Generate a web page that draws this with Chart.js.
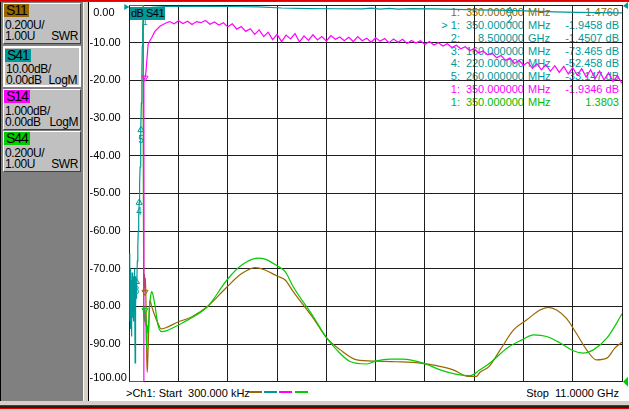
<!DOCTYPE html>
<html>
<head>
<meta charset="utf-8">
<script src="https://cdn.jsdelivr.net/npm/chart.js@4.4.0/dist/chart.umd.min.js"></script>
<style>
  html, body { margin: 0; padding: 0; }
  body { width: 629px; height: 411px; overflow: hidden; position: relative; background: #d4d0c8;
         font-family: "Liberation Sans", Arial, sans-serif; color: #000; }
  .abs { position: absolute; }
  #panel { left: 0; top: 2px; width: 83px; height: 399px; background: #808080; border-left: 1px solid #000; box-sizing: border-box; }
  #sep { left: 83px; top: 2px; width: 5px; height: 399px; background: #d4d0c8; border-left: 1px solid #f4f4f4; box-sizing: border-box; }
  #plotFrame { left: 88px; top: 2px; width: 541px; height: 399px; background: #fff; border-left: 1px solid #000; box-sizing: border-box; }
  .btn { position: absolute; left: 3px; width: 78px; height: 41px; background: #c0c0c0; box-sizing: border-box;
         border: 1px solid; border-color: #fff #404040 #404040 #fff; font-size: 12px; letter-spacing: -0.4px; }
  .btn.active { border: 2px solid #fff; }
  .chip { position: absolute; left: 0; top: 0; height: 13px; line-height: 13px; padding: 0 2px; font-size: 14px; letter-spacing: -1px; }
  .l2 { position: absolute; left: 1px; top: 15px; line-height: 12px; }
  .l3 { position: absolute; left: 1px; top: 26px; line-height: 12px; }
  .r3 { position: absolute; right: 2px; top: 26px; line-height: 12px; }
  .ro { position: absolute; font-size: 11px; line-height: 12px; white-space: nowrap; z-index: 1; }
  #chartBox { left: 89px; top: 0; width: 540px; height: 401px; z-index: 2; }
  #traceTag { left: 130px; top: 7px; width: 35px; height: 13px; line-height: 13px; background: #009999;
              font-size: 11px; letter-spacing: -0.5px; padding-left: 1px; box-sizing: border-box; z-index: 3; }
  .status { position: absolute; font-size: 11px; line-height: 12px; top: 387px; white-space: pre; z-index: 1; }
  .sw { position: absolute; top: 391px; width: 13px; height: 2px; z-index: 1; }
</style>
</head>
<body>
<div class="abs" style="left:0;top:0;width:629px;height:1px;background:#e00000"></div>
<div class="abs" style="left:0;top:1px;width:629px;height:1px;background:#505050"></div>
<div id="panel" class="abs"></div>
<div id="sep" class="abs"></div>
<div id="plotFrame" class="abs"></div>
<div class="abs" style="left:0;top:405px;width:629px;height:1px;background:#e00000"></div>
<div class="abs" style="left:0;top:406px;width:629px;height:2px;background:#202020"></div>
<div class="abs" style="left:0;top:408px;width:629px;height:1px;background:#e00000"></div>

<div class="btn" style="top:3px"><span class="chip" style="background:#996600">S11</span>
  <span class="l2">0.200U/</span><span class="l3">1.00U</span><span class="r3">SWR</span></div>
<div class="btn active" style="top:46px"><span class="chip" style="background:#009999;top:1px">S41</span>
  <span class="l2">10.00dB/</span><span class="l3">0.00dB</span><span class="r3">LogM</span></div>
<div class="btn" style="top:89px"><span class="chip" style="background:#ff00ff">S14</span>
  <span class="l2">1.000dB/</span><span class="l3">0.00dB</span><span class="r3">LogM</span></div>
<div class="btn" style="top:131px"><span class="chip" style="background:#00cc00">S44</span>
  <span class="l2">0.200U/</span><span class="l3">1.00U</span><span class="r3">SWR</span></div>

<div id="readout"></div>

<div id="chartBox" class="abs"><canvas id="vnaChart" width="540" height="401"></canvas></div>
<div id="traceTag" class="abs">dB S41</div>

<div class="status" style="left:126px">&gt;Ch1: Start  300.000 kHz</div>
<div class="sw" style="left:249px;background:#996600"></div>
<div class="sw" style="left:264px;background:#009999"></div>
<div class="sw" style="left:279px;background:#ff00ff"></div>
<div class="sw" style="left:295px;background:#00cc00"></div>
<div class="status" style="right:10px">Stop  11.0000 GHz</div>

<script>
// grid / axis
const xGridGHz = [0, 1.1, 2.2, 3.3, 4.4, 5.5, 6.6, 7.7, 8.8, 9.9, 11];
const yTickValues = [0, -10, -20, -30, -40, -50, -60, -70, -80, -90, -100];
const yTickLabels = ['0.00', '-10.00', '-20.00', '-30.00', '-40.00', '-50.00', '-60.00', '-70.00', '-80.00', '-90.00', '-100.00'];

// S41 (10 dB/div, ref 0 dB top)
const s41Freq = [0.0003, 0.005, 0.01, 0.015, 0.02, 0.025, 0.03, 0.035, 0.04, 0.045,
  0.05, 0.055, 0.06, 0.065, 0.07, 0.075, 0.08, 0.085, 0.09, 0.095,
  0.10, 0.105, 0.11, 0.115, 0.12, 0.125, 0.13, 0.135, 0.14, 0.145,
  0.15, 0.155, 0.16, 0.17, 0.18, 0.19, 0.20, 0.21, 0.22, 0.23,
  0.24, 0.25, 0.26, 0.27, 0.28, 0.29, 0.30, 0.32, 0.35, 0.40,
  0.5, 0.8, 1.5, 2.2, 2.9, 3.4, 4.0, 4.6, 5.2, 5.4,
  5.6, 5.8, 6.0, 6.3, 6.8, 7.3, 7.8, 8.5, 9.0, 9.5,
  10.0, 10.5, 11.0];
const s41Db = [-66, -80, -72, -84, -74, -79, -70, -86, -76, -81,
  -73, -88, -77, -71, -83, -75, -79, -78, -72, -84,
  -74, -80, -70, -82, -76, -73, -95, -77, -72, -80,
  -75, -78, -73.465, -76, -68, -64, -60, -56, -52.458, -48,
  -43, -38, -33.147, -26, -18, -11, -6, -3, -1.9458, -1.0,
  -0.6, -0.4, -0.35, -0.4, -0.5, -0.8, -0.95, -1.0, -1.05, -0.85,
  -1.1, -0.9, -1.1, -0.95, -1.05, -1.15, -1.3, -1.4507, -1.65, -1.8,
  -1.95, -2.0, -2.1];

// S14 (1 dB/div, ref 0 dB top)
const s14Freq = [0.0003, 0.32, 0.325, 0.35, 0.37, 0.39, 0.42, 0.46, 0.50, 0.57, 0.69, 0.83,
  0.9, 1.0, 1.1, 1.2, 1.3, 1.4, 1.5, 1.6, 1.7, 1.8,
  1.9, 2.0, 2.1, 2.2, 2.3, 2.4, 2.5, 2.6, 2.7, 2.8,
  2.9, 3.0, 3.1, 3.2, 3.3, 3.4, 3.5, 3.6, 3.7, 3.8,
  3.9, 4.0, 4.1, 4.2, 4.3, 4.4, 4.5, 4.6, 4.7, 4.8,
  4.9, 5.0, 5.1, 5.2, 5.3, 5.4, 5.5, 5.6, 5.7, 5.8,
  5.9, 6.0, 6.1, 6.2, 6.3, 6.4, 6.5, 6.6, 6.7, 6.8,
  6.9, 7.0, 7.1, 7.2, 7.3, 7.4, 7.5, 7.6, 7.7, 7.8,
  7.9, 8.0, 8.1, 8.2, 8.3, 8.4, 8.5, 8.6, 8.7, 8.8,
  8.9, 9.0, 9.1, 9.2, 9.3, 9.4, 9.5, 9.6, 9.7, 9.8,
  9.9, 10.0, 10.1, 10.2, 10.3, 10.4, 10.5, 10.6, 10.7, 10.8,
  10.9, 11.0];
const s14Db = [-10, -10, -1.98, -1.9346, -1.80, -1.50, -1.05, -0.95, -0.87, -0.70, -0.56, -0.47,
  -0.44, -0.50, -0.42, -0.49, -0.43, -0.52, -0.44, -0.47, -0.41, -0.51,
  -0.45, -0.53, -0.47, -0.58, -0.50, -0.64, -0.57, -0.70, -0.63, -0.78,
  -0.66, -0.84, -0.72, -0.92, -0.78, -0.97, -0.80, -0.90, -0.76, -0.98,
  -0.82, -0.94, -0.79, -0.93, -0.84, -0.96, -0.81, -0.91, -0.85, -0.95,
  -0.86, -0.97, -0.84, -0.95, -0.88, -0.99, -0.87, -0.96, -0.89, -1.00,
  -0.90, -0.99, -0.91, -1.02, -0.94, -1.01, -0.95, -1.05, -0.97, -1.06,
  -1.00, -1.09, -1.03, -1.13, -1.07, -1.16, -1.11, -1.21, -1.16, -1.27,
  -1.22, -1.32, -1.28, -1.40, -1.34, -1.47, -1.41, -1.55, -1.47, -1.60,
  -1.52, -1.68, -1.56, -1.72, -1.58, -1.76, -1.61, -1.79, -1.63, -1.83,
  -1.66, -1.87, -1.69, -1.91, -1.72, -1.95, -1.75, -1.99, -1.80, -2.03,
  -1.88, -2.08];

// S11 (SWR 0.2U/div, ref 1.00U bottom)
const s11Freq = [0.0003, 0.31, 0.32, 0.33, 0.34, 0.35, 0.36, 0.37, 0.38, 0.39,
  0.40, 0.41, 0.43, 0.46, 0.50, 0.57, 0.64, 0.71, 0.80, 1.09,
  1.39, 1.76, 2.18, 2.51, 2.81, 3.03, 3.30, 3.48, 3.66, 4.11,
  4.41, 4.71, 5.08, 5.52, 5.97, 6.49, 6.86, 7.23, 7.56, 7.75,
  7.83, 8.03, 8.28, 8.58, 8.87, 9.17, 9.35, 9.54, 9.76, 9.98,
  10.21, 10.43, 10.66, 10.84, 10.97, 11.0];
const s11Swr = [3.0, 3.0, 1.62, 1.50, 1.57, 1.476, 1.55, 1.45, 1.30, 1.12,
  1.05, 1.10, 1.25, 1.43, 1.40, 1.35, 1.31, 1.28, 1.285, 1.317,
  1.344, 1.402, 1.503, 1.574, 1.606, 1.593, 1.561, 1.540, 1.478, 1.336,
  1.231, 1.169, 1.116, 1.109, 1.106, 1.099, 1.085, 1.063, 1.028, 1.028,
  1.05, 1.08, 1.169, 1.275, 1.328, 1.381, 1.395, 1.381, 1.336, 1.257,
  1.169, 1.116, 1.125, 1.178, 1.204, 1.21];

// S44 (SWR 0.2U/div, ref 1.00U bottom)
const s44Freq = [0.0003, 0.31, 0.32, 0.33, 0.34, 0.35, 0.36, 0.37, 0.38, 0.39,
  0.40, 0.42, 0.45, 0.48, 0.50, 0.53, 0.57, 0.64, 0.72, 0.82,
  1.09, 1.39, 1.76, 2.18, 2.51, 2.87, 3.03, 3.30, 3.48, 3.66,
  4.11, 4.41, 4.63, 4.93, 5.30, 5.52, 5.82, 6.11, 6.56, 6.94,
  7.31, 7.61, 7.83, 8.05, 8.43, 8.80, 9.02, 9.32, 9.62, 9.91,
  10.14, 10.36, 10.66, 10.88, 10.97, 11.0];
const s44Swr = [3.0, 3.0, 1.34, 1.40, 1.32, 1.3803, 1.30, 1.36, 1.22, 1.17,
  1.30, 1.26, 1.40, 1.46, 1.478, 1.46, 1.41, 1.30, 1.266, 1.27,
  1.30, 1.339, 1.402, 1.54, 1.619, 1.656, 1.651, 1.615, 1.584, 1.504,
  1.345, 1.231, 1.169, 1.107, 1.094, 1.111, 1.120, 1.120, 1.099, 1.063,
  1.039, 1.032, 1.063, 1.099, 1.178, 1.226, 1.249, 1.240, 1.205, 1.164,
  1.152, 1.169, 1.231, 1.311, 1.349, 1.36];

// markers
const s41MarkFreq = [0.35, 8.5, 0.16, 0.22, 0.26];
const s41MarkDb = [-1.9458, -1.4507, -73.465, -52.458, -33.147];
const s41MarkNames = ['1', '2', '3', '4', '5'];
const s14MarkFreq = [0.35];
const s14MarkDb = [-1.9346];
const s11MarkFreq = [0.35];
const s11MarkSwr = [1.4760];
const s44MarkFreq = [0.35];
const s44MarkSwr = [1.3803];

// marker readout table
const roIndex = ['1:', '> 1:', '2:', '3:', '4:', '5:', '1:', '1:'];
const roFreq = ['350.000000', '350.000000', '8.500000', '160.000000', '220.000000', '260.000000', '350.000000', '350.000000'];
const roUnit = ['MHz', 'MHz', 'GHz', 'MHz', 'MHz', 'MHz', 'MHz', 'MHz'];
const roValue = ['1.4760', '-1.9458 dB', '-1.4507 dB', '-73.465 dB', '-52.458 dB', '-33.147 dB', '-1.9346 dB', '1.3803'];
const roColor = ['#996600', '#009999', '#009999', '#009999', '#009999', '#009999', '#ff00ff', '#00bb00'];

const C_S11 = '#996600', C_S41 = '#009999', C_S14 = '#ff00ff', C_S44 = '#00cc00';

// readout rows (drawn under the traces, like the analyzer)
const ro = document.getElementById('readout');
roIndex.forEach((idx, i) => {
    const top = Math.round(12.3 + i * 12.77 - 6);
    const cols = [
        `right:169px`, `right:105px`, `left:528px`, `right:10px`
    ];
    [idx, roFreq[i], roUnit[i], roValue[i]].forEach((txt, j) => {
        const d = document.createElement('div');
        d.className = 'ro';
        d.style.cssText = `${cols[j]};top:${top}px;color:${roColor[i]}`;
        d.textContent = txt;
        ro.appendChild(d);
    });
});

function pts(xs, ys) {
    return xs.map((x, i) => ({ x: x, y: ys[i] }));
}

// y labels of the active trace, edge labels pulled inside the grid
const axisLabels = {
    id: 'axisLabels',
    afterDraw(chart) {
        const { ctx, chartArea, scales } = chart;
        ctx.save();
        ctx.font = '11px "Liberation Sans", Arial, sans-serif';
        ctx.fillStyle = '#000';
        ctx.textBaseline = 'middle';
        ctx.textAlign = 'left';
        const dash = ctx.measureText('-').width;
        yTickValues.forEach((v, i) => {
            let py = scales.yDb.getPixelForValue(v);
            py = Math.min(Math.max(py, chartArea.top + 8), chartArea.bottom - 4);
            const txt = yTickLabels[i];
            ctx.fillText(txt, txt.startsWith('-') ? 0.5 : 0.5 + dash, py);
        });
        ctx.restore();
    }
};

// reference position triangles + S41 marker numbers
const refMarks = {
    id: 'refMarks',
    afterDatasetsDraw(chart) {
        const { ctx, chartArea, scales } = chart;
        const r = chartArea.right, l = chartArea.left;
        const yTop = scales.yDb.getPixelForValue(0);
        const yBot = scales.ySwr.getPixelForValue(1.0);
        ctx.save();
        ctx.fillStyle = C_S41;
        ctx.beginPath();
        ctx.moveTo(r + 1, yTop + 1); ctx.lineTo(r + 6, yTop - 3); ctx.lineTo(r + 6, yTop + 4); ctx.closePath();
        ctx.fill();
        ctx.beginPath();
        ctx.moveTo(l - 5, yTop - 1); ctx.lineTo(l, yTop + 2); ctx.lineTo(l - 5, yTop + 5); ctx.closePath();
        ctx.fill();
        ctx.fillStyle = C_S44;
        ctx.beginPath();
        ctx.moveTo(r + 1, yBot); ctx.lineTo(r + 6, yBot - 5); ctx.lineTo(r + 6, yBot + 5); ctx.closePath();
        ctx.fill();

        ctx.font = '10px "Liberation Sans", Arial, sans-serif';
        ctx.fillStyle = C_S41;
        ctx.textAlign = 'center';
        ctx.textBaseline = 'middle';
        s41MarkFreq.forEach((f, i) => {
            const px = scales.x.getPixelForValue(f);
            const py = scales.yDb.getPixelForValue(s41MarkDb[i]);
            ctx.fillText(s41MarkNames[i], px, py + 10);
        });
        ctx.restore();
    }
};

new Chart(document.getElementById('vnaChart'), {
    type: 'line',
    data: {
        datasets: [
            { data: pts(s41MarkFreq, s41MarkDb), yAxisID: 'yDb', showLine: false, pointStyle: 'triangle',
              pointRadius: 3.5, borderColor: C_S41, backgroundColor: 'rgba(0,0,0,0)', borderWidth: 1, order: 0 },
            { data: pts(s14MarkFreq, s14MarkDb), yAxisID: 'yS14', showLine: false, pointStyle: 'triangle', rotation: 180,
              pointRadius: 3.5, borderColor: C_S14, backgroundColor: 'rgba(0,0,0,0)', borderWidth: 1, order: 0 },
            { data: pts(s11MarkFreq, s11MarkSwr), yAxisID: 'ySwr', showLine: false, pointStyle: 'triangle', rotation: 180,
              pointRadius: 3.5, borderColor: C_S11, backgroundColor: 'rgba(0,0,0,0)', borderWidth: 1, order: 0 },
            { data: pts(s44MarkFreq, s44MarkSwr), yAxisID: 'ySwr', showLine: false, pointStyle: 'triangle', rotation: 180,
              pointRadius: 3.5, borderColor: C_S44, backgroundColor: 'rgba(0,0,0,0)', borderWidth: 1, order: 0 },
            { label: 'S14', data: pts(s14Freq, s14Db), yAxisID: 'yS14', borderColor: C_S14,
              borderWidth: 1.2, pointRadius: 0, tension: 0, order: 1 },
            { label: 'S41', data: pts(s41Freq, s41Db), yAxisID: 'yDb', borderColor: C_S41,
              borderWidth: 1.2, pointRadius: 0, tension: 0, order: 2 },
            { label: 'S44', data: pts(s44Freq, s44Swr), yAxisID: 'ySwr', borderColor: C_S44,
              borderWidth: 1.2, pointRadius: 0, cubicInterpolationMode: 'monotone', order: 3 },
            { label: 'S11', data: pts(s11Freq, s11Swr), yAxisID: 'ySwr', borderColor: C_S11,
              borderWidth: 1.2, pointRadius: 0, cubicInterpolationMode: 'monotone', order: 4 }
        ]
    },
    options: {
        responsive: false,
        animation: false,
        events: [],
        layout: { padding: { left: 40.3, right: 7, top: 3.7, bottom: 19.3 } },
        plugins: { legend: { display: false }, tooltip: { enabled: false } },
        scales: {
            x: {
                type: 'linear', min: 0, max: 11,
                afterBuildTicks: axis => { axis.ticks = xGridGHz.map(v => ({ value: v })); },
                grid: { color: '#1e1e1e', lineWidth: 1, drawTicks: false },
                border: { display: false },
                ticks: { display: false }
            },
            yDb: {
                type: 'linear', position: 'left', min: -100, max: 0,
                afterBuildTicks: axis => { axis.ticks = yTickValues.map(v => ({ value: v })); },
                grid: { color: '#1e1e1e', lineWidth: 1, drawTicks: false },
                border: { display: false },
                ticks: { display: false }
            },
            yS14: { type: 'linear', min: -10, max: 0, display: false },
            ySwr: { type: 'linear', min: 1.0, max: 3.0, display: false }
        }
    },
    plugins: [axisLabels, refMarks]
});
</script>
</body>
</html>
